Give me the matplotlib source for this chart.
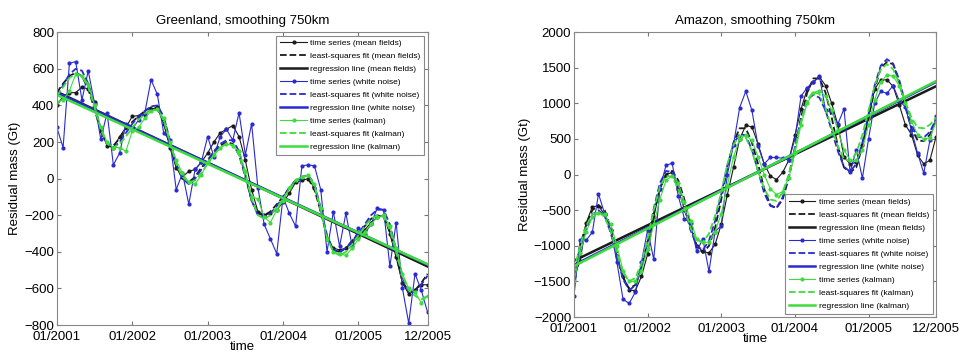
import numpy as np, matplotlib
matplotlib.use("Agg")
import matplotlib.pyplot as plt

plt.rcParams["font.family"] = ["Liberation Sans", "DejaVu Sans"]

months = np.arange(60)
tick_pos = [0, 12, 24, 36, 48, 59]
tick_lbl = ["01/2001", "01/2002", "01/2003", "01/2004", "01/2005", "12/2005"]

# ---- Greenland (Gt) ----
gr_ts_mean = [400, 450, 470, 470, 500, 490, 420, 260, 180, 170, 230, 280, 340, 345, 350, 380, 390, 300, 170, 60,
              10, 40, 50, 90, 140, 200, 250, 270, 290, 230, 100, -60, -180, -200, -190, -170, -130, -80, -20, -10,
              0, -50, -170, -330, -380, -390, -380, -350, -320, -280, -240, -210, -200, -300, -430, -570, -630, -610, -580, -580]
gr_fit_mean = [470, 520, 560, 580, 560, 490, 380, 260, 190, 180, 220, 270, 310, 340, 370, 390, 380, 320, 190, 70,
               0, -20, 10, 60, 100, 140, 180, 200, 190, 130, 10, -120, -190, -200, -180, -140, -100, -50, -10, 0,
               0, -60, -180, -320, -390, -400, -380, -340, -300, -260, -220, -200, -210, -290, -420, -560, -620, -610, -570, -520]
gr_ts_white = [280, 170, 630, 640, 430, 590, 410, 215, 360, 75, 140, 300, 270, 320, 360, 540, 460, 250, 210, -60,
               30, -140, 50, 90, 230, 120, 230, 270, 210, 360, 130, 300, -50, -250, -330, -410, -100, -190, -260, 70,
               75, 70, -60, -400, -180, -370, -190, -370, -270, -300, -250, -160, -170, -480, -240, -600, -790, -520, -610, -730]
gr_fit_white = [450, 510, 570, 600, 590, 520, 400, 270, 190, 170, 200, 250, 300, 340, 370, 395, 400, 340, 210, 80,
                0, -30, 0, 50, 100, 150, 190, 210, 210, 150, 20, -120, -200, -210, -190, -150, -100, -50, -10, 10,
                20, -30, -160, -310, -390, -400, -380, -340, -300, -250, -200, -170, -170, -250, -390, -540, -620, -620, -580, -530]
gr_ts_kal = [420, 430, 480, 570, 560, 520, 400, 280, 200, 170, 170, 150, 260, 280, 330, 370, 380, 330, 200, 100,
             30, -20, -30, 20, 90, 130, 170, 190, 180, 150, 40, -100, -110, -210, -240, -170, -120, -50, -10, 10,
             20, -30, -160, -330, -400, -410, -420, -380, -330, -290, -250, -210, -200, -260, -380, -520, -600, -620, -680, -640]
gr_fit_kal = [450, 500, 550, 575, 560, 500, 390, 270, 190, 170, 190, 230, 280, 320, 355, 375, 375, 320, 200, 80,
              10, -20, -10, 30, 80, 130, 170, 190, 185, 130, 20, -110, -200, -220, -200, -160, -110, -60, -10, 10,
              15, -40, -170, -320, -400, -420, -400, -360, -310, -260, -220, -200, -210, -280, -400, -530, -610, -640, -660, -640]
gr_reg = {"mean": [475, -480], "white": [470, -470], "kal": [458, -468]}

# ---- Amazon (Gt) ----
am_ts_mean = [-1430, -1220, -680, -450, -440, -560, -780, -1150, -1420, -1620, -1630, -1430, -1120, -600, -200, 0, 30, -200, -500, -750,
              -1000, -1080, -1100, -980, -700, -280, 100, 500, 690, 670, 430, 150, -20, -70, 30, 200, 550, 920, 1200, 1300,
              1370, 1250, 1000, 700, 250, 150, 170, 420, 800, 1200, 1330, 1330, 1240, 980, 700, 560, 270, 150, 200, 530]
am_fit_mean = [-1450, -1000, -700, -500, -430, -500, -750, -1100, -1450, -1600, -1550, -1300, -950, -550, -200, 0, 50, -80, -350, -700,
               -1000, -1100, -1000, -750, -350, 100, 450, 650, 650, 450, 150, -200, -430, -470, -350, -50, 350, 800, 1150, 1350,
               1350, 1150, 800, 400, 100, 30, 100, 400, 800, 1200, 1500, 1580, 1550, 1300, 950, 650, 480, 470, 560, 760]
am_ts_white = [-1700, -920, -920, -810, -270, -550, -780, -1230, -1750, -1810, -1650, -1230, -780, -1190, -200, 130, 160, -300, -620, -680,
               -1080, -900, -1360, -800, -720, 0, 420, 940, 1170, 900, 400, 150, 240, 240, 230, 200, 500, 1100, 1220, 1300,
               1380, 900, 880, 710, 920, 30, 350, -50, 500, 1000, 1170, 1140, 1250, 1040, 950, 620, 300, 20, 480, 820]
am_fit_white = [-1500, -1100, -780, -560, -500, -580, -820, -1150, -1470, -1620, -1560, -1300, -920, -480, -120, 50, 40, -150, -450, -780,
                -1000, -1060, -930, -650, -280, 130, 430, 570, 550, 350, 50, -260, -440, -470, -320, -20, 380, 780, 1050, 1120,
                1080, 900, 620, 330, 110, 40, 150, 450, 850, 1250, 1530, 1620, 1560, 1330, 1000, 700, 530, 520, 600, 780]
am_ts_kal = [-1500, -1100, -800, -600, -540, -560, -700, -1000, -1350, -1500, -1500, -1350, -1050, -700, -350, -80, -20, -120, -380, -650,
             -900, -950, -950, -800, -550, -150, 250, 500, 550, 480, 250, 0, -200, -280, -240, -50, 300, 700, 1000, 1150,
             1180, 1100, 900, 620, 350, 200, 200, 350, 700, 1050, 1300, 1400, 1380, 1250, 1000, 750, 560, 500, 520, 740]
am_fit_kal = [-1350, -1000, -720, -560, -520, -600, -800, -1100, -1380, -1500, -1450, -1250, -900, -500, -170, -20, -30, -200, -470, -750,
              -930, -950, -830, -580, -250, 150, 420, 550, 520, 330, 50, -200, -350, -370, -250, 0, 350, 750, 1050, 1160,
              1130, 930, 650, 400, 220, 190, 300, 560, 900, 1250, 1480, 1550, 1480, 1280, 1020, 800, 660, 650, 700, 800]
am_reg = {"mean": [-1210, 1240], "white": [-1270, 1300], "kal": [-1285, 1312]}

colors = {"mean": "#1a1a1a", "white": "#2a2ad0", "kal": "#3ddc3d"}
names = {"mean": "mean fields", "white": "white noise", "kal": "kalman"}


def panel(ax, series, reg, title, ylim, yticks, legend_loc):
    for key in ["mean", "white", "kal"]:
        ts, fit = series[key]
        c = colors[key]
        ax.plot(months, ts, "-", color=c, lw=0.8, marker=".", ms=4,
                label=f"time series ({names[key]})")
        ax.plot(months, fit, "--", color=c, lw=1.3,
                label=f"least-squares fit ({names[key]})")
        ax.plot([months[0], months[-1]], reg[key], "-", color=c, lw=1.8,
                label=f"regression line ({names[key]})")
    ax.set_xlim(0, 59)
    ax.set_ylim(*ylim)
    ax.set_xticks(tick_pos)
    ax.set_xticklabels(tick_lbl)
    ax.set_yticks(yticks)
    ax.tick_params(direction="in", top=True, right=True, labelsize=9.5, length=3, color="#777777", pad=2)
    ax.tick_params(axis="x", pad=4)
    for s in ax.spines.values():
        s.set_color("#888888")
        s.set_linewidth(0.8)
    ax.set_title(title, fontsize=9.5, pad=6)
    ax.set_xlabel("time", fontsize=9.5, labelpad=-1)
    ax.set_ylabel("Residual mass (Gt)", fontsize=9.5, labelpad=2)
    leg = ax.legend(loc=legend_loc, fontsize=6, handlelength=3.2, labelspacing=0.62,
                    handletextpad=0.4, borderpad=0.45, fancybox=False, framealpha=1,
                    edgecolor="#888888", borderaxespad=0.4)
    leg.get_frame().set_linewidth(0.8)


fig = plt.figure(figsize=(9.63, 3.57), dpi=100)
ax1 = fig.add_axes([0.059, 0.0896, 0.385, 0.820])
ax2 = fig.add_axes([0.596, 0.112, 0.376, 0.798])

panel(ax1, {"mean": (gr_ts_mean, gr_fit_mean), "white": (gr_ts_white, gr_fit_white),
            "kal": (gr_ts_kal, gr_fit_kal)}, gr_reg,
      "Greenland, smoothing 750km", (-800, 800), range(-800, 801, 200), "upper right")
panel(ax2, {"mean": (am_ts_mean, am_fit_mean), "white": (am_ts_white, am_fit_white),
            "kal": (am_ts_kal, am_fit_kal)}, am_reg,
      "Amazon, smoothing 750km", (-2000, 2000), range(-2000, 2001, 500), "lower right")

plt.savefig("out.png", dpi=100)
